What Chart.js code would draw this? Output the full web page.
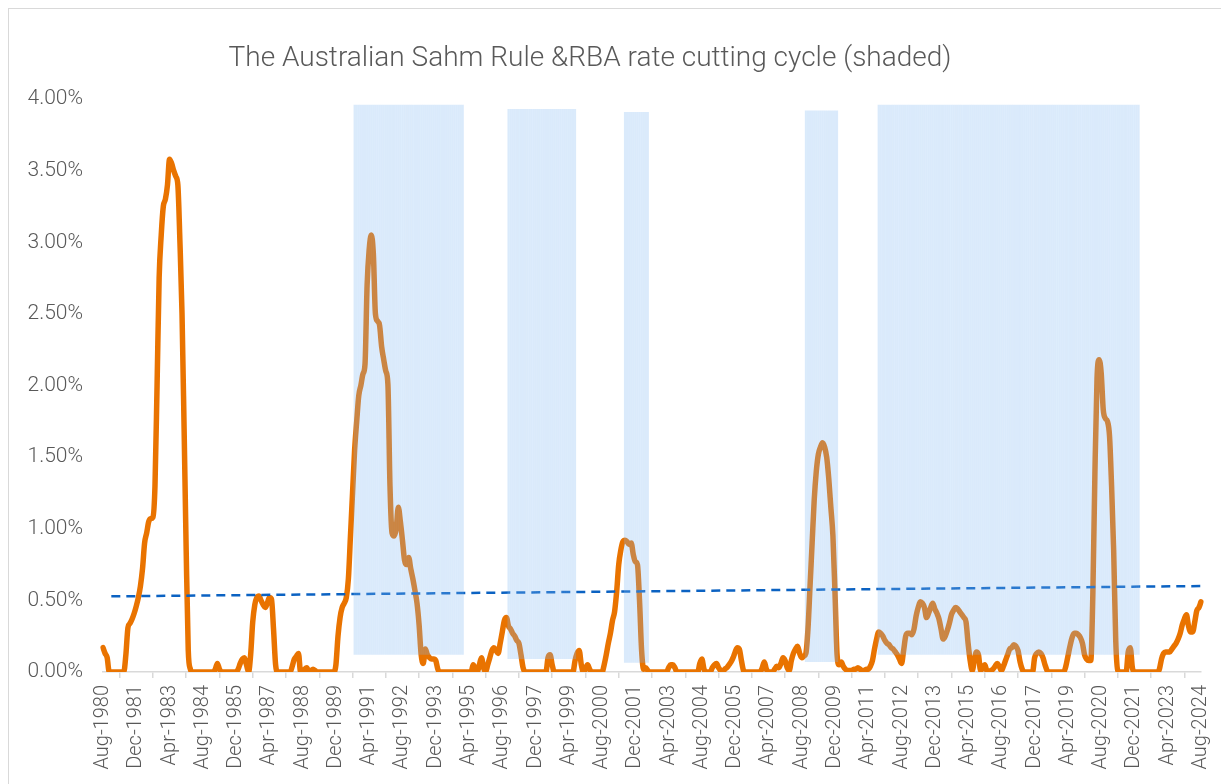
<!DOCTYPE html>
<html>
<head>
<meta charset="utf-8">
<title>The Australian Sahm Rule &amp; RBA rate cutting cycle</title>
<script src="https://cdn.jsdelivr.net/npm/chart.js@4.4.1/dist/chart.umd.min.js"></script>
<style>
    body { margin: 0; background: #fff; }
    #wrap { position: relative; width: 1221px; height: 784px; overflow: hidden; }
    #frame { position: absolute; left: 8px; top: 8px; width: 1300px; height: 900px; border: 1px solid #d9d9d9; pointer-events: none; }
    canvas { position: absolute; left: 0; top: 0; }
</style>
</head>
<body>
<div id="wrap">
    <div id="frame"></div>
    <canvas id="sahmChart" width="1221" height="784"></canvas>
</div>
<script>
//monthly categories, Aug-1980 .. Aug-2024
const monthNames = ['Jan', 'Feb', 'Mar', 'Apr', 'May', 'Jun', 'Jul', 'Aug', 'Sep', 'Oct', 'Nov', 'Dec']
const categories = []
for (let y = 1980; y <= 2024; y++) {
    for (let m = 0; m < 12; m++) {
        if (y === 1980 && m < 7) continue
        if (y === 2024 && m > 7) break
        categories.push(monthNames[m] + '-' + y)
    }
}

//labels shown on the x axis (every 16th month)
const tickLabels = ['Aug-1980', 'Dec-1981', 'Apr-1983', 'Aug-1984', 'Dec-1985', 'Apr-1987', 'Aug-1988',
    'Dec-1989', 'Apr-1991', 'Aug-1992', 'Dec-1993', 'Apr-1995', 'Aug-1996', 'Dec-1997', 'Apr-1999',
    'Aug-2000', 'Dec-2001', 'Apr-2003', 'Aug-2004', 'Dec-2005', 'Apr-2007', 'Aug-2008', 'Dec-2009',
    'Apr-2011', 'Aug-2012', 'Dec-2013', 'Apr-2015', 'Aug-2016', 'Dec-2017', 'Apr-2019', 'Aug-2020',
    'Dec-2021', 'Apr-2023', 'Aug-2024']

//Sahm rule indicator, %
const sahm = [
    0.17, 0.13, 0.10, 0, 0, // 1980 Aug-Dec
    0, 0, 0, 0, 0, 0, 0.12, 0.31, 0.34, 0.37, 0.41, 0.46, // 1981
    0.52, 0.60, 0.72, 0.90, 0.97, 1.05, 1.07, 1.08, 1.30, 2.00, 2.75, 3.05, // 1982
    3.25, 3.30, 3.40, 3.58, 3.55, 3.50, 3.46, 3.40, 3.00, 2.50, 1.70, 0.85, // 1983
    0.15, 0.02, 0, 0, 0, 0, 0, 0, 0, 0, 0, 0, // 1984
    0, 0.02, 0.06, 0.02, 0, 0, 0, 0, 0, 0, 0, 0, // 1985
    0.02, 0.06, 0.09, 0.10, 0.05, 0, 0.12, 0.35, 0.47, 0.52, 0.53, 0.50, // 1986
    0.47, 0.45, 0.48, 0.52, 0.51, 0.30, 0.05, 0, 0, 0, 0, 0, // 1987
    0, 0, 0.04, 0.09, 0.11, 0.13, 0, 0, 0.02, 0.03, 0, 0.01, // 1988
    0.02, 0.01, 0, 0, 0, 0, 0, 0, 0, 0, 0, 0.05, // 1989
    0.25, 0.38, 0.45, 0.48, 0.52, 0.65, 0.95, 1.25, 1.55, 1.75, 1.93, 2.00, // 1990
    2.08, 2.15, 2.70, 2.95, 3.05, 2.92, 2.50, 2.45, 2.42, 2.27, 2.18, 2.10, // 1991
    2.01, 1.30, 0.97, 0.95, 1.00, 1.15, 1.05, 0.92, 0.78, 0.75, 0.80, 0.72, // 1992
    0.65, 0.57, 0.48, 0.33, 0.12, 0.06, 0.16, 0.12, 0.10, 0.09, 0.09, 0.08, // 1993
    0.02, 0, 0, 0, 0, 0, 0, 0, 0, 0, 0, 0, // 1994
    0, 0, 0, 0, 0, 0.05, 0.02, 0, 0.05, 0.10, 0.03, 0, // 1995
    0.05, 0.10, 0.15, 0.17, 0.15, 0.13, 0.20, 0.28, 0.36, 0.38, 0.32, 0.30, // 1996
    0.27, 0.25, 0.22, 0.20, 0.12, 0.03, 0, 0, 0, 0, 0, 0, // 1997
    0, 0, 0, 0, 0, 0.10, 0.12, 0.05, 0, 0, 0, 0, // 1998
    0, 0, 0, 0, 0, 0, 0.08, 0.13, 0.15, 0.05, 0, 0.02, // 1999
    0.05, 0.02, 0, 0, 0, 0, 0, 0, 0.05, 0.12, 0.20, 0.27, // 2000
    0.36, 0.42, 0.56, 0.75, 0.85, 0.91, 0.92, 0.91, 0.89, 0.90, 0.82, 0.77, // 2001
    0.75, 0.50, 0.15, 0.02, 0.03, 0.01, 0, 0, 0, 0, 0, 0, // 2002
    0, 0, 0, 0.03, 0.05, 0.05, 0.03, 0, 0, 0, 0, 0, // 2003
    0, 0, 0, 0, 0, 0, 0.06, 0.09, 0.02, 0, 0, 0, // 2004
    0.03, 0.05, 0.06, 0.03, 0.01, 0, 0.02, 0.03, 0.05, 0.07, 0.10, 0.14, // 2005
    0.17, 0.16, 0.08, 0.01, 0, 0, 0, 0, 0, 0, 0, 0, // 2006
    0.03, 0.07, 0.02, 0, 0, 0, 0.02, 0.04, 0.03, 0.06, 0.10, 0.08, // 2007
    0.03, 0.01, 0.08, 0.13, 0.16, 0.18, 0.13, 0.10, 0.11, 0.13, 0.30, 0.60, // 2008
    0.90, 1.20, 1.40, 1.52, 1.57, 1.60, 1.57, 1.50, 1.35, 1.15, 0.95, 0.55, // 2009
    0.12, 0.05, 0.07, 0.04, 0.02, 0.01, 0.01, 0.01, 0.02, 0.02, 0.03, 0.02, // 2010
    0.01, 0.01, 0.02, 0.02, 0.04, 0.08, 0.16, 0.23, 0.28, 0.27, 0.25, 0.22, // 2011
    0.20, 0.19, 0.17, 0.16, 0.14, 0.12, 0.09, 0.06, 0.15, 0.25, 0.27, 0.27, // 2012
    0.26, 0.30, 0.39, 0.45, 0.49, 0.48, 0.45, 0.38, 0.41, 0.45, 0.48, 0.44, // 2013
    0.41, 0.37, 0.30, 0.23, 0.25, 0.29, 0.34, 0.40, 0.43, 0.45, 0.44, 0.42, // 2014
    0.40, 0.38, 0.35, 0.20, 0.08, 0.01, 0.08, 0.14, 0.12, 0.01, 0.03, 0.05, // 2015
    0.01, 0, 0.01, 0.02, 0.04, 0.06, 0.04, 0.01, 0.04, 0.08, 0.12, 0.16, // 2016
    0.17, 0.19, 0.18, 0.15, 0.07, 0.02, 0, 0, 0, 0, 0, 0.10, // 2017
    0.13, 0.14, 0.13, 0.10, 0.05, 0.01, 0, 0, 0, 0, 0, 0, // 2018
    0, 0, 0.04, 0.11, 0.18, 0.24, 0.27, 0.27, 0.26, 0.24, 0.20, 0.12, // 2019
    0.09, 0.08, 0.08, 0.55, 1.40, 2.05, 2.18, 2.09, 1.83, 1.77, 1.75, 1.65, // 2020
    1.30, 0.85, 0.22, 0.01, 0, 0, 0, 0, 0.14, 0.17, 0.03, 0, // 2021
    0, 0, 0, 0, 0, 0, 0, 0, 0, 0, 0, 0.02, // 2022
    0.09, 0.13, 0.14, 0.14, 0.14, 0.16, 0.18, 0.20, 0.23, 0.27, 0.33, 0.37, // 2023
    0.40, 0.32, 0.28, 0.28, 0.35, 0.43, 0.45, 0.49 // 2024 Jan-Aug
]

//RBA rate cutting cycles (shaded)
const cutStart = ['Sep-1990', 'Nov-1996', 'Jul-2001', 'Oct-2008', 'Sep-2011']
const cutEnd = ['Jan-1995', 'Jul-1999', 'Jun-2002', 'Jan-2010', 'Feb-2022']
const cutLow = [0.12, 0.09, 0.065, 0.07, 0.12]
const cutHigh = [3.96, 3.93, 3.91, 3.92, 3.96]

//linear trend end points
const trendStart = 'Dec-1980'
const trendEnd = 'Aug-2024'
const trendFrom = 0.528
const trendTo = 0.60

const shade = categories.map(() => null)
cutStart.forEach((s, k) => {
    const a = categories.indexOf(s)
    const b = categories.indexOf(cutEnd[k])
    for (let i = a; i <= b; i++) shade[i] = [cutLow[k], cutHigh[k]]
})

const trend = categories.map(() => null)
trend[categories.indexOf(trendStart)] = trendFrom
trend[categories.indexOf(trendEnd)] = trendTo

const textColor = '#595959'
const axisColor = '#d9d9d9'

// title is centred a little left of the canvas middle, so draw it by hand
const titlePlugin = {
    id: 'sahmTitle',
    afterDraw(chart) {
        const ctx = chart.ctx
        ctx.save()
        ctx.font = '300 28px Roboto'
        ctx.fillStyle = textColor
        ctx.textAlign = 'center'
        ctx.textBaseline = 'middle'
        ctx.fillText('The Australian Sahm Rule &RBA rate cutting cycle (shaded)', 590, 59)
        ctx.restore()
    }
}

new Chart(document.getElementById('sahmChart'), {
    type: 'line',
    data: {
        labels: categories,
        datasets: [{
            type: 'bar',
            label: 'RBA rate cutting cycle',
            data: shade,
            backgroundColor: 'rgba(128, 183, 241, 0.29)',
            borderWidth: 0,
            inflateAmount: 0,
            barPercentage: 1,
            categoryPercentage: 1,
            order: 0
        }, {
            label: 'Trend',
            data: trend,
            borderColor: '#0b62c2',
            borderWidth: 2.5,
            borderDash: [9, 6],
            spanGaps: true,
            pointRadius: 0,
            order: 1
        }, {
            label: 'Sahm Rule',
            data: sahm,
            borderColor: '#e97300',
            borderWidth: 5.5,
            pointRadius: 0,
            cubicInterpolationMode: 'monotone',
            borderJoinStyle: 'round',
            borderCapStyle: 'round',
            order: 2
        }]
    },
    options: {
        responsive: false,
        animation: false,
        layout: { padding: { top: 99, right: 20, left: 0, bottom: 0 } },
        plugins: {
            legend: { display: false },
            tooltip: { enabled: false },
            title: { display: false }
        },
        scales: {
            x: {
                offset: false,
                grid: { display: true, drawOnChartArea: false, drawTicks: true, tickLength: 6, color: axisColor, lineWidth: 1.5 },
                border: { color: axisColor, width: 1.5 },
                ticks: {
                    autoSkip: false,
                    maxRotation: 90,
                    minRotation: 90,
                    padding: 7,
                    color: textColor,
                    font: { family: 'Roboto', size: 20, weight: '300' },
                    callback: (v, i) => i % 16 === 0 ? tickLabels[i / 16] : null
                },
                afterFit: (s) => {
                    s.height = 112
                    s.paddingLeft = 0
                    s.paddingRight = 0
                }
            },
            y: {
                min: 0,
                max: 4,
                grid: { display: false },
                border: { display: false },
                ticks: {
                    stepSize: 0.5,
                    padding: 12,
                    color: textColor,
                    font: { family: 'Roboto', size: 21, weight: '300' },
                    callback: (v) => v.toFixed(2) + '%'
                },
                afterFit: (s) => { s.width = 103 }
            }
        }
    },
    plugins: [titlePlugin]
})
</script>
</body>
</html>
